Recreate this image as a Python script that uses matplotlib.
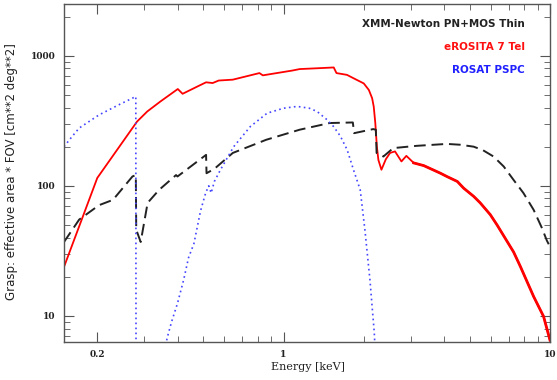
import numpy as np
import matplotlib
matplotlib.use("Agg")
import matplotlib.pyplot as plt
from matplotlib.ticker import FixedLocator, NullFormatter

# eROSITA 7 telescopes
ero_e = [0.15, 0.200, 0.282, 0.308, 0.345, 0.401, 0.418, 0.483, 0.512,
         0.542, 0.571, 0.645, 0.812, 0.836, 1.08, 1.149, 1.40, 1.543, 1.58, 1.73, 1.83,
         2.0, 2.09, 2.15, 2.18, 2.21, 2.24, 2.27, 2.33, 2.42, 2.51, 2.62, 2.77, 2.89,
         3.08, 3.36, 3.88, 4.1, 4.49, 4.74, 5.17, 5.47, 5.97, 6.33, 7.3, 7.74, 8.68,
         9.46, 10.0]
ero_v = [23.8, 115, 312, 373, 445, 555, 510, 590, 625,
         617, 645, 655, 736, 707, 770, 790, 805, 813, 736, 713, 672,
         613, 546, 472, 407, 304, 200, 158, 133, 160, 179, 184, 154, 170,
         150, 143, 125, 118, 108, 96, 83, 74, 60, 50, 31, 24, 14.1,
         9.9, 6.5]

# XMM-Newton PN+MOS thin
xmm_e = [0.15, 0.171, 0.203, 0.229, 0.271, 0.279, 0.280, 0.291, 0.309, 0.341, 0.395,
         0.40, 0.512, 0.514, 0.55, 0.645, 0.861, 1.149, 1.49, 1.82, 1.84, 2.17,
         2.22, 2.235, 2.37, 2.58, 3.16, 4.1, 4.6, 5.17, 5.6, 6.14, 6.7, 7.3, 7.95,
         8.68, 9.3, 9.73, 10.0]
xmm_v = [37, 55, 71, 78, 118, 121, 46, 37, 74, 93, 121,
         118, 173, 125, 135, 179, 226, 270, 304, 307, 254, 273,
         270, 179, 168, 195, 203, 210, 207, 200, 188, 168, 141, 111, 88,
         65.4, 48, 38, 34]

# ROSAT PSPC
ros_e = [0.15, 0.161, 0.171, 0.203, 0.241, 0.279, 0.2795, np.nan, 0.355, 0.366, 0.38,
         0.40, 0.422, 0.44, 0.461, 0.488, 0.51, 0.524, 0.535, 0.55, 0.58, 0.65, 0.751,
         0.868, 1.0, 1.125, 1.25, 1.336, 1.457, 1.54, 1.634, 1.733, 1.83, 1.94, 2.02,
         2.11, 2.16, 2.19, 2.21]
ros_v = [200, 240, 278, 351, 420, 486, 5, np.nan, 5, 6.8, 9,
         12.5, 19, 28, 36, 64, 88, 100, 88, 108, 133, 200, 286,
         362, 395, 408, 395, 373, 322, 286, 241, 189, 133, 93, 45.9,
         18.9, 10.5, 7.5, 5]

labels = ["XMM-Newton PN+MOS Thin", "eROSITA 7 Tel", "ROSAT PSPC"]
label_colors = ["#222222", "#ff1010", "#2020ff"]

fig = plt.figure(figsize=(5.57, 3.80), dpi=100)
ax = fig.add_axes([64 / 557, 1 - 342 / 380, (550 - 64) / 557, (342 - 4) / 380])

ax.plot(ero_e, ero_v, color="#ff0000", lw=1.3)
# noisier high-energy part of the eROSITA curve appears thicker
hi = [i for i, e in enumerate(ero_e) if e >= 3.0]
ax.plot([ero_e[i] for i in hi], [ero_v[i] for i in hi], color="#ff0000", lw=2.0)
ax.plot(xmm_e, xmm_v, color="#222222", lw=1.4, dashes=(6, 3))
ax.plot(ros_e, ros_v, color="#4545ff", lw=1.2, dashes=(1, 2))

ax.set_xscale("log")
ax.set_yscale("log")
ax.set_xlim(0.15, 10)
ax.set_ylim(6.3, 2500)

ax.xaxis.set_major_locator(FixedLocator([0.2, 1, 10]))
ax.set_xticklabels(["0.2", "1", "10"])
ax.xaxis.set_minor_locator(FixedLocator([0.3, 0.4, 0.5, 0.6, 0.7, 0.8, 0.9,
                                         2, 3, 4, 5, 6, 7, 8, 9]))
ax.xaxis.set_minor_formatter(NullFormatter())
ax.yaxis.set_major_locator(FixedLocator([10, 100, 1000]))
ax.set_yticklabels(["10", "100", "1000"])
ax.yaxis.set_minor_locator(FixedLocator([7, 8, 9, 20, 30, 40, 50, 60, 70, 80, 90,
                                         200, 300, 400, 500, 600, 700, 800, 900, 2000]))
ax.yaxis.set_minor_formatter(NullFormatter())

frame_c = "#555555"
for s in ax.spines.values():
    s.set_color(frame_c)
    s.set_linewidth(1.0)
ax.tick_params(which="both", direction="in", top=True, right=True, color=frame_c,
               labelsize=6.5, labelcolor="#222222")
ax.tick_params(which="major", length=7, width=0.8, pad=6)
ax.tick_params(which="minor", length=4, width=0.6)
for t in ax.get_xticklabels() + ax.get_yticklabels():
    t.set_fontfamily("DejaVu Serif")
    t.set_fontweight("bold")

ax.set_xlabel("Energy [keV]", fontsize=8, color="#222222", family="DejaVu Serif")
ax.xaxis.set_label_coords(0.502, -0.058)
ax.set_ylabel("Grasp: effective area * FOV [cm**2 deg**2]", fontsize=8.5,
              color="#222222")
ax.yaxis.set_label_coords(-0.095, 0.505)

ys = [24, 47, 70]
for lab, c, y in zip(labels, label_colors, ys):
    fig.text(525 / 557, 1 - y / 380, lab, color=c, fontsize=7.5, fontweight="bold",
             ha="right", va="center")

fig.savefig("out.png", dpi=100)
